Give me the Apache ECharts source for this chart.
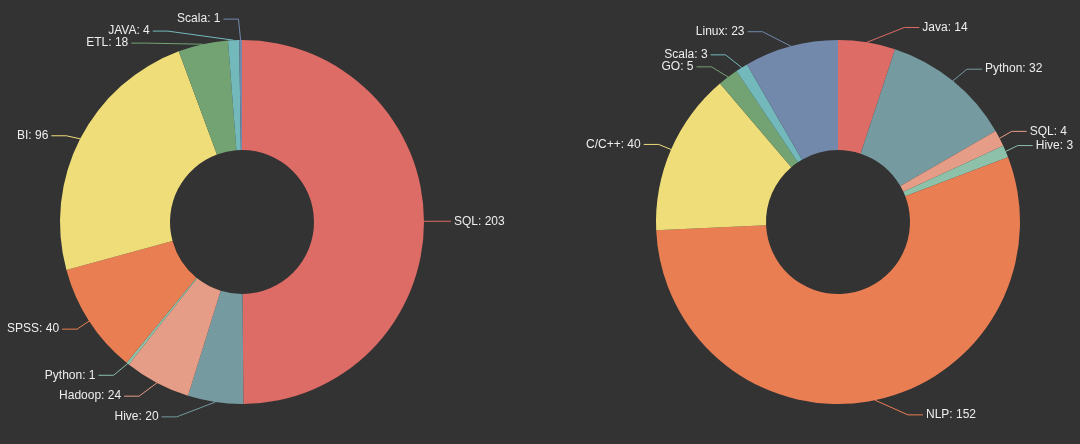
<!DOCTYPE html>
<html>
<head>
<meta charset="utf-8">
<script src="https://cdn.jsdelivr.net/npm/echarts@6/dist/echarts.min.js"></script>
<style>
html,body{margin:0;padding:0;background:#333333;}
#chart{width:1080px;height:444px;}
</style>
</head>
<body>
<div id="chart"></div>
<script>
const leftNames = ['SQL', 'Hive', 'Hadoop', 'Python', 'SPSS', 'BI', 'ETL', 'JAVA', 'Scala'];
const leftValues = [203, 20, 24, 1, 40, 96, 18, 4, 1];
const rightNames = ['Java', 'Python', 'SQL', 'Hive', 'NLP', 'C/C++', 'GO', 'Scala', 'Linux'];
const rightValues = [14, 32, 4, 3, 152, 40, 5, 3, 23];
const palette = ['#dd6b66', '#759aa0', '#e69d87', '#8dc1a9', '#ea7e53', '#eedd78', '#73a373', '#73b9bc', '#7289ab'];

const W = 1080, H = 444;
const CY = 222, R_OUT = 182, R_IN = 72;
const LEFT_CX = 242, RIGHT_CX = 838;
const LINE_LEN = 15, LINE_LEN2 = 15, LABEL_H = 12;

// Classic (ECharts 4 style) outside-label layout: labels placed on a circle
// of radius r + length + length2, stacked to avoid overlap.
function classicLabelLayout(values, cx, cy, r) {
  const sum = values.reduce((a, b) => a + b, 0);
  let acc = 0;
  const items = values.map((v, i) => {
    const a0 = -Math.PI / 2 + acc / sum * Math.PI * 2;
    acc += v;
    const a1 = -Math.PI / 2 + acc / sum * Math.PI * 2;
    const mid = (a0 + a1) / 2;
    const dx = Math.cos(mid), dy = Math.sin(mid);
    const dir = dx < 0 ? -1 : 1;
    const x1 = cx + r * dx, y1 = cy + r * dy;
    const x2 = x1 + dx * LINE_LEN, y2 = y1 + dy * LINE_LEN;
    const x3 = x2 + dir * LINE_LEN2, y3 = y2;
    return {
      i, x: x3 + dir * 5, y: y2, height: LABEL_H, len: LINE_LEN, len2: LINE_LEN2,
      align: dir < 0 ? 'right' : 'left',
      linePoints: [[x1, y1], [x2, y2], [x3, y3]]
    };
  });

  function adjustSingleSide(list, dir) {
    list.sort((a, b) => a.y - b.y);
    function shiftDown(start, end, delta) {
      for (let j = start; j < end; j++) {
        if (list[j].y + delta > H) break;
        list[j].y += delta;
        if (j > start && j + 1 < end && list[j + 1].y > list[j].y + list[j].height) {
          shiftUp(j, delta / 2);
          return;
        }
      }
      shiftUp(end - 1, delta / 2);
    }
    function shiftUp(end, delta) {
      for (let j = end; j >= 0; j--) {
        if (list[j].y - delta < 0) break;
        list[j].y -= delta;
        if (j > 0 && list[j].y > list[j - 1].y + list[j - 1].height) break;
      }
    }
    function changeX(sub, isDown) {
      let last = isDown ? Number.MAX_VALUE : 0;
      for (let k = 0; k < sub.length; k++) {
        const it = sub[k];
        const dY = Math.abs(it.y - cy);
        const R = r + it.len + it.len2;
        let dX = dY < r + it.len ? Math.sqrt(R * R - dY * dY) : Math.abs(it.x - cx);
        if (isDown && dX >= last) dX = last - 10;
        if (!isDown && dX <= last) dX = last + 10;
        it.x = cx + dX * dir;
        last = dX;
      }
    }
    let lastY = 0;
    const n = list.length;
    for (let k = 0; k < n; k++) {
      const d = list[k].y - lastY;
      if (d < 0) shiftDown(k, n, -d);
      lastY = list[k].y + list[k].height;
    }
    if (H - lastY < 0) shiftUp(n - 1, lastY - H);
    const up = [], down = [];
    list.forEach(it => (it.y >= cy ? down : up).push(it));
    changeX(up, false);
    changeX(down, true);
  }

  const leftList = items.filter(it => it.x < cx);
  const rightList = items.filter(it => it.x >= cx);
  adjustSingleSide(rightList, 1);
  adjustSingleSide(leftList, -1);

  items.forEach(it => {
    const lp = it.linePoints;
    const dist = lp[1][0] - lp[2][0];
    lp[2][0] = it.x < cx ? it.x + 3 : it.x - 3;
    lp[1][0] = lp[2][0] + dist;
    lp[1][1] = lp[2][1] = it.y;
  });
  return items;
}

const layouts = [
  classicLabelLayout(leftValues, LEFT_CX, CY, R_OUT),
  classicLabelLayout(rightValues, RIGHT_CX, CY, R_OUT)
];

function toData(names, values) {
  return names.map((n, i) => ({ name: n, value: values[i], itemStyle: { color: palette[i % palette.length] } }));
}

const labelStyle = {
  formatter: '{b}: {c}',
  color: '#eeeeee',
  fontSize: 12,
  overflow: 'none',
  fontFamily: '"Liberation Sans", Arial, sans-serif'
};

function labelLayoutFn(params) {
  const it = layouts[params.seriesIndex][params.dataIndex];
  return {
    x: it.x,
    y: it.y,
    align: it.align,
    verticalAlign: 'middle',
    labelLinePoints: it.linePoints
  };
}

const chart = echarts.init(document.getElementById('chart'));
chart.setOption({
  backgroundColor: '#333333',
  animation: false,
  series: [
    {
      type: 'pie',
      center: [LEFT_CX, CY],
      radius: [R_IN, R_OUT],
      startAngle: 90,
      label: labelStyle,
      labelLine: { length: LINE_LEN, length2: LINE_LEN2 },
      labelLayout: labelLayoutFn,
      data: toData(leftNames, leftValues)
    },
    {
      type: 'pie',
      center: [RIGHT_CX, CY],
      radius: [R_IN, R_OUT],
      startAngle: 90,
      label: labelStyle,
      labelLine: { length: LINE_LEN, length2: LINE_LEN2 },
      labelLayout: labelLayoutFn,
      data: toData(rightNames, rightValues)
    }
  ]
});
</script>
</body>
</html>
